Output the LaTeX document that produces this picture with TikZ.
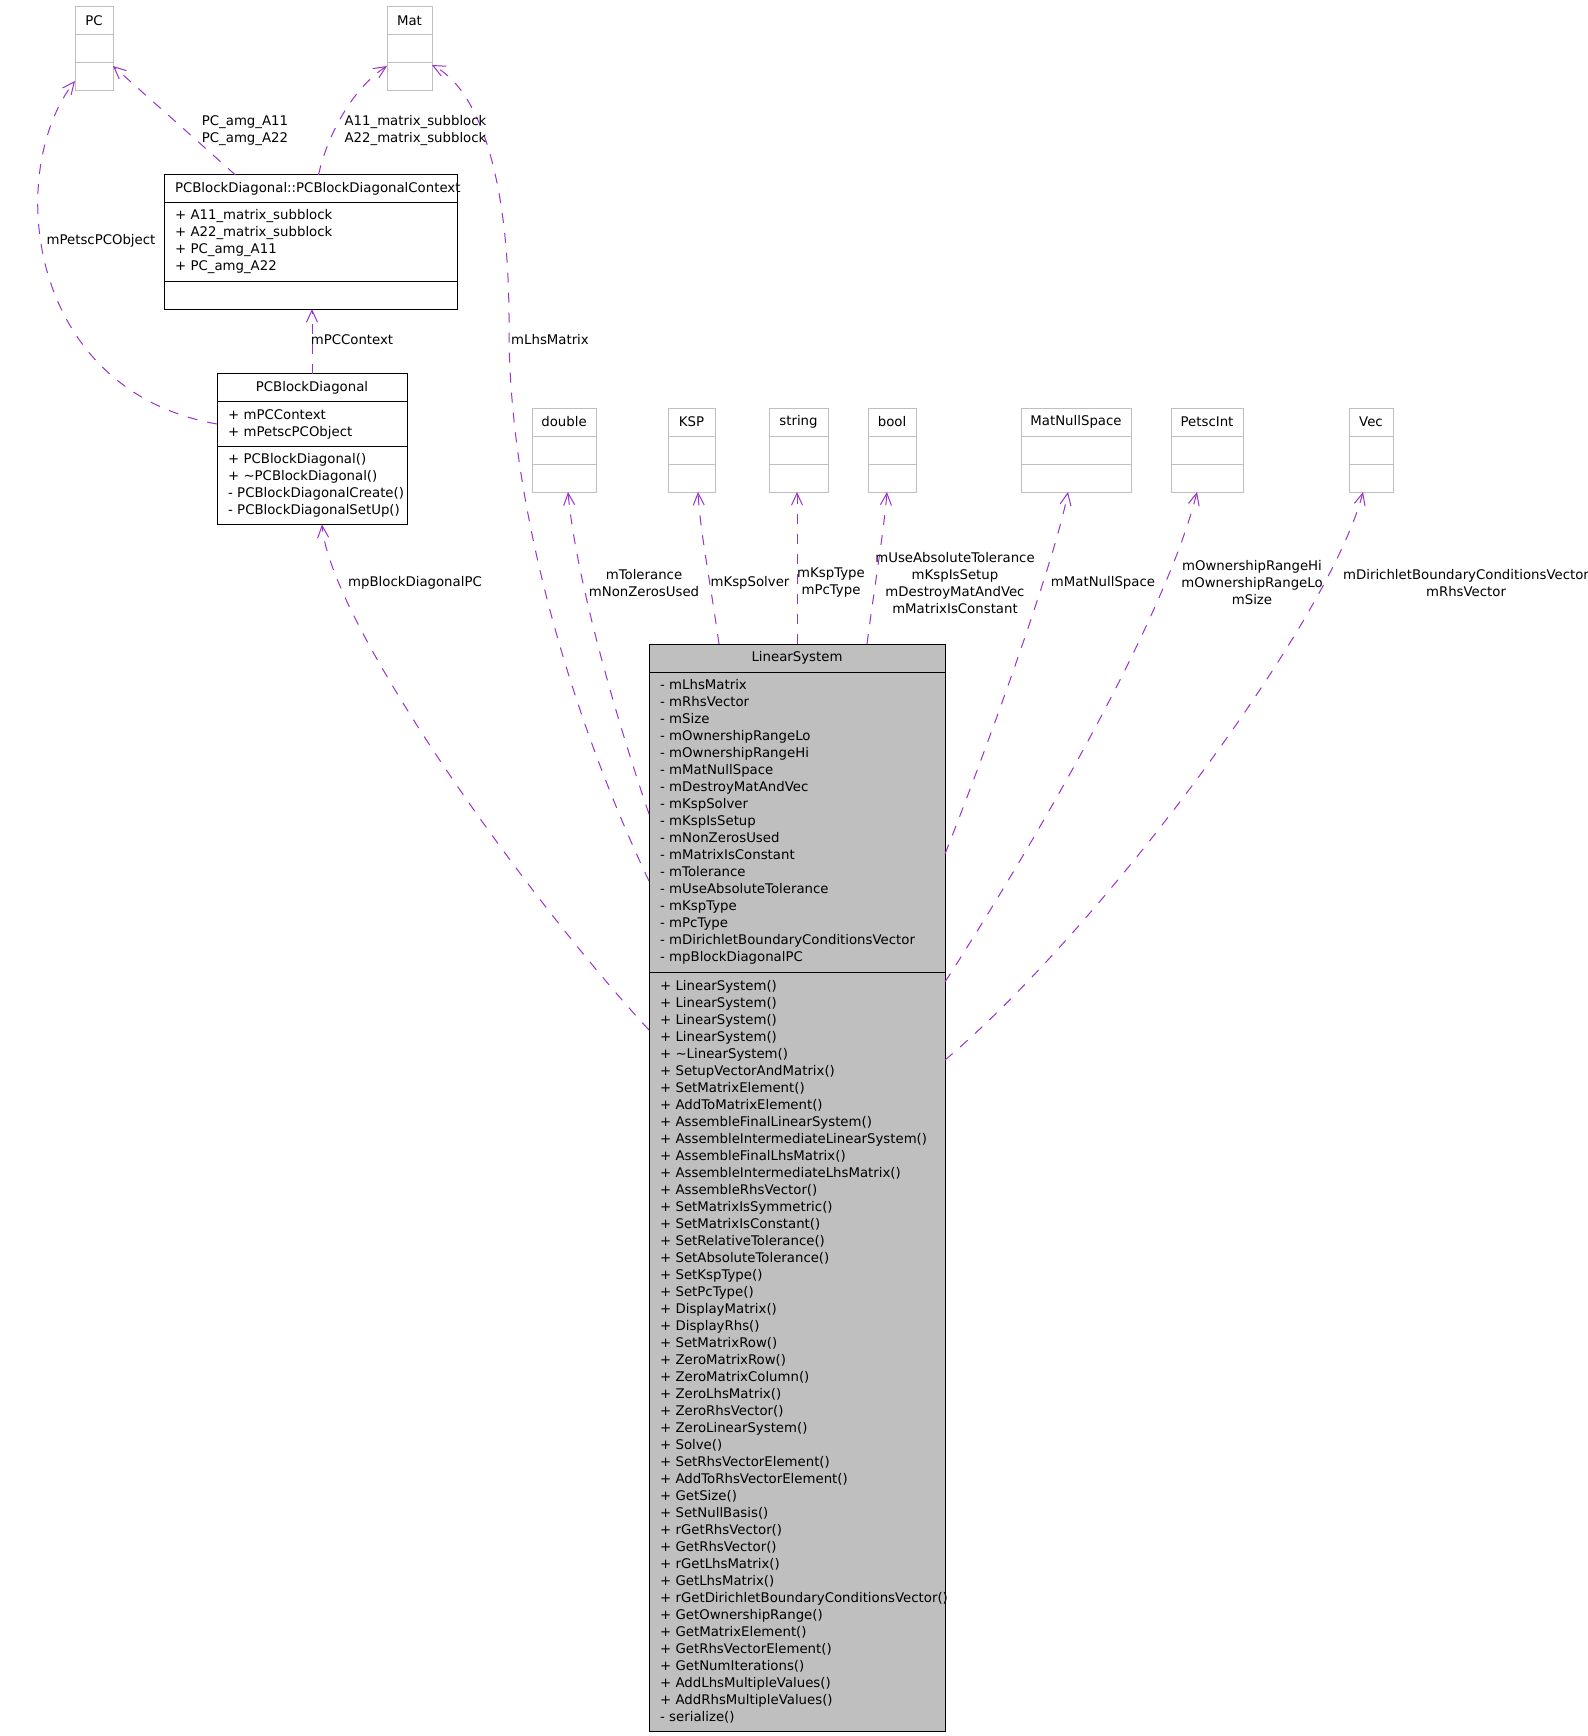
\documentclass[tikz,border=0pt]{standalone}
\usepackage{fontspec}
\setmainfont{DejaVu Sans}
\usepackage{tikz}
\usetikzlibrary{arrows.meta, positioning}
\definecolor{usage}{HTML}{9A32CD}
\definecolor{greyfill}{HTML}{BFBFBF}
\definecolor{greyline}{HTML}{BFBFBF}
\newcommand{\umlfont}{\fontsize{13.3}{17}\selectfont\hyphenpenalty10000\exhyphenpenalty10000\relax}

\begin{document}
\begin{tikzpicture}[x=1pt, y=-1pt,
    every node/.style={font={\umlfont}, inner sep=0pt, outer sep=0pt},
    ext/.style={rectangle, draw=greyline, line width=1pt, minimum width=#1, minimum height=28pt},
    hdr/.style={rectangle, draw=black, fill=white, line width=1pt, inner xsep=11pt,
                text width=#1, align=center, minimum height=28pt},
    part/.style={rectangle, draw=black, fill=white, line width=1pt, inner xsep=11pt,
                 inner ysep=2pt, text width=#1, align=left},
    lbl/.style={align=center},
    dep/.style={-{Straight Barb[length=12pt, width=11pt]}, usage, line width=1pt,
                dash pattern=on 10pt off 10pt}
]
\path[fill=white, use as bounding box] (0,0) rectangle (1587,1736);
\clip (0,0) rectangle (1587,1736);

% used types
\node[ext=38pt] (pc) at (94,21) {PC};
\node[ext=38pt, below=0pt of pc] (pcA) {};
\node[ext=38pt, below=0pt of pcA] (pcM) {};
\node[ext=45pt] (mat) at (409.5,21) {Mat};
\node[ext=45pt, below=0pt of mat] (matA) {};
\node[ext=45pt, below=0pt of matA] (matM) {};

\node[ext=64pt] (dbl) at (564,422) {double};
\node[ext=64pt, below=0pt of dbl] (dblA) {};
\node[ext=64pt, below=0pt of dblA] (dblM) {};
\node[ext=47pt] (ksp) at (691.5,422) {KSP};
\node[ext=47pt, below=0pt of ksp] (kspA) {};
\node[ext=47pt, below=0pt of kspA] (kspM) {};
\node[ext=59pt] (str) at (798.5,422) {string};
\node[ext=59pt, below=0pt of str] (strA) {};
\node[ext=59pt, below=0pt of strA] (strM) {};
\node[ext=48pt] (bool) at (892,422) {bool};
\node[ext=48pt, below=0pt of bool] (boolA) {};
\node[ext=48pt, below=0pt of boolA] (boolM) {};
\node[ext=110pt] (mns) at (1076,422) {MatNullSpace};
\node[ext=110pt, below=0pt of mns] (mnsA) {};
\node[ext=110pt, below=0pt of mnsA] (mnsM) {};
\node[ext=72pt] (int) at (1207,422) {PetscInt};
\node[ext=72pt, below=0pt of int] (intA) {};
\node[ext=72pt, below=0pt of intA] (intM) {};
\node[ext=44pt] (vec) at (1371,422) {Vec};
\node[ext=44pt, below=0pt of vec] (vecA) {};
\node[ext=44pt, below=0pt of vecA] (vecM) {};

% PCBlockDiagonal and its context
\node[hdr=271pt] (ctx) at (310.5,189) {PCBlockDiagonal::PCBlockDiagonalContext};
\node[part=271pt, minimum height=78pt, below=0pt of ctx] (ctxA)
  {+~A11\_matrix\_subblock\\+~A22\_matrix\_subblock\\+~PC\_amg\_A11\\+~PC\_amg\_A22};
\node[part=271pt, minimum height=28pt, below=0pt of ctxA] (ctxM) {};

\node[hdr=168pt] (pcbd) at (312,387.5) {PCBlockDiagonal};
\node[part=168pt, minimum height=45pt, below=0pt of pcbd] (pcbdA)
  {+~mPCContext\\+~mPetscPCObject};
\node[part=168pt, minimum height=78pt, below=0pt of pcbdA] (pcbdM)
  {+~PCBlockDiagonal()\\+~\textasciitilde PCBlockDiagonal()\\\mbox{-~PCBlockDiagonalCreate()}\\\mbox{-~PCBlockDiagonalSetUp()}};

% LinearSystem
\node[hdr=274pt, fill=greyfill] (ls) at (797,658) {LinearSystem};
\node[part=274pt, fill=greyfill, minimum height=300pt, below=0pt of ls] (lsA)
  {-~mLhsMatrix\\-~mRhsVector\\-~mSize\\-~mOwnershipRangeLo\\-~mOwnershipRangeHi\\
   -~mMatNullSpace\\-~mDestroyMatAndVec\\-~mKspSolver\\-~mKspIsSetup\\-~mNonZerosUsed\\
   -~mMatrixIsConstant\\-~mTolerance\\-~mUseAbsoluteTolerance\\-~mKspType\\-~mPcType\\
   -~mDirichletBoundaryConditionsVector\\-~mpBlockDiagonalPC};
\node[part=274pt, fill=greyfill, minimum height=759pt, below=0pt of lsA] (lsM)
  {+~LinearSystem()\\+~LinearSystem()\\+~LinearSystem()\\+~LinearSystem()\\
   +~\textasciitilde LinearSystem()\\+~SetupVectorAndMatrix()\\+~SetMatrixElement()\\
   +~AddToMatrixElement()\\+~AssembleFinalLinearSystem()\\+~AssembleIntermediateLinearSystem()\\
   +~AssembleFinalLhsMatrix()\\+~AssembleIntermediateLhsMatrix()\\+~AssembleRhsVector()\\
   +~SetMatrixIsSymmetric()\\+~SetMatrixIsConstant()\\+~SetRelativeTolerance()\\
   +~SetAbsoluteTolerance()\\+~SetKspType()\\+~SetPcType()\\+~DisplayMatrix()\\
   +~DisplayRhs()\\+~SetMatrixRow()\\+~ZeroMatrixRow()\\+~ZeroMatrixColumn()\\
   +~ZeroLhsMatrix()\\+~ZeroRhsVector()\\+~ZeroLinearSystem()\\+~Solve()\\
   +~SetRhsVectorElement()\\+~AddToRhsVectorElement()\\+~GetSize()\\+~SetNullBasis()\\
   +~rGetRhsVector()\\+~GetRhsVector()\\+~rGetLhsMatrix()\\+~GetLhsMatrix()\\
   +~rGetDirichletBoundaryConditionsVector()\\+~GetOwnershipRange()\\+~GetMatrixElement()\\
   +~GetRhsVectorElement()\\+~GetNumIterations()\\+~AddLhsMultipleValues()\\
   +~AddRhsMultipleValues()\\\mbox{-~serialize()}};

% usage relations
\draw[dep] ([xshift=-75pt]ctx.north) -- ([yshift=-3pt]pcM.north east);
\draw[dep] ([xshift=8pt]ctx.north) .. controls (326,140) and (350,90) .. ([yshift=-3pt]matM.north west);
\draw[dep] (pcbd.north) -- (pcbd.north |- ctxM.south);
\draw[dep] (pcbdA.west) .. controls (25,390) and (5,170) .. ([yshift=-4pt]pcM.west);
\draw[dep] ([yshift=-58pt]lsM.north west) .. controls (520,890) and (330,620) .. ([xshift=10pt]pcbdM.south);
\draw[dep] ([yshift=-59pt]lsA.west) .. controls (568,710) and (509,500) .. (509,330)
  .. controls (510,180) and (480,90) .. ([yshift=-2pt]matM.north east);
\draw[dep] ([yshift=8pt]lsA.west) .. controls (610,700) and (575,570) .. ([xshift=4pt]dblM.south);
\draw[dep] ([xshift=-78pt]ls.north) .. controls (710,580) and (700,530) .. ([xshift=6.5pt]kspM.south);
\draw[dep] (ls.north) -- (ls.north |- strM.south);
\draw[dep] ([xshift=70pt]ls.north) .. controls (874,590) and (884,530) .. ([xshift=-5pt]boolM.south);
\draw[dep] ([yshift=-32pt]lsA.east) .. controls (990,740) and (1055,560) .. ([xshift=-8pt]mnsM.south);
\draw[dep] ([yshift=-10pt]lsM.north east) .. controls (1030,850) and (1165,620) .. ([xshift=-10pt]intM.south);
\draw[dep] ([yshift=-88pt]lsM.north east) .. controls (1100,930) and (1330,620) .. ([xshift=-8pt]vecM.south);

% relation labels
\node[lbl] (lPC) at (245,131) {PC\_amg\_A11\\PC\_amg\_A22};
\node[lbl] (lMat) at (415.5,131) {A11\_matrix\_subblock\\A22\_matrix\_subblock};
\node[lbl] (lPetsc) at (101,241) {mPetscPCObject};
\node[lbl] (lCtx) at (352,340) {mPCContext};
\node[lbl] (lLhs) at (550,340) {mLhsMatrix};
\node[lbl] (lBlock) at (415,583) {mpBlockDiagonalPC};
\node[lbl] (lDbl) at (644,583) {mTolerance\\mNonZerosUsed};
\node[lbl] (lKsp) at (750,583) {mKspSolver};
\node[lbl] (lStr) at (831,583) {mKspType\\mPcType};
\node[lbl] (lBool) at (955,583) {mUseAbsoluteTolerance\\mKspIsSetup\\mDestroyMatAndVec\\mMatrixIsConstant};
\node[lbl] (lMns) at (1103,583) {mMatNullSpace};
\node[lbl] (lInt) at (1252,583) {mOwnershipRangeHi\\mOwnershipRangeLo\\mSize};
\node[lbl] (lVec) at (1466,583) {mDirichletBoundaryConditionsVector\\mRhsVector};
\end{tikzpicture}
\end{document}
